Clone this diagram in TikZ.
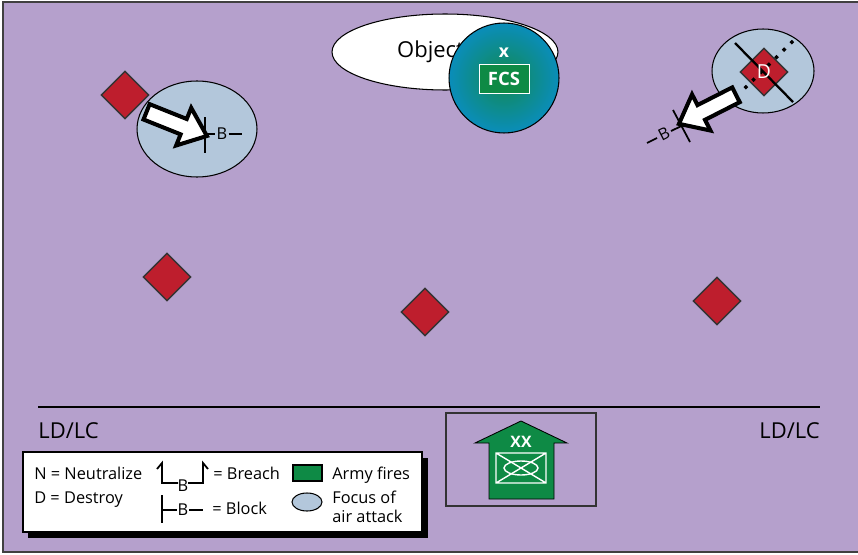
\documentclass[tikz,border=0pt]{standalone}
\usepackage{fontspec}
\setmainfont{Open Sans}
\usetikzlibrary{positioning,shapes.geometric,shapes.arrows,calc}

\definecolor{bgpurple}{HTML}{B5A0CC}
\definecolor{airblue}{HTML}{B3C7DB}
\definecolor{tgtred}{HTML}{BE1E2D}
\definecolor{armygreen}{HTML}{0E8A45}
\definecolor{fcsblue}{HTML}{0A8DBA}
\definecolor{fcsgreen}{HTML}{128A52}

\tikzset{
  target/.style={diamond,draw=black!80,line width=0.8pt,fill=tgtred,
    minimum width=0.96cm,minimum height=0.96cm,inner sep=0pt},
  airfocus/.style={ellipse,draw=black,line width=0.6pt,fill=airblue,inner sep=0pt},
  push/.style={single arrow,draw=black,line width=2.3pt,fill=white,inner xsep=0pt,inner ysep=0.125cm,
    single arrow head extend=0.24cm,single arrow tip angle=78},
  symb/.style={line width=1pt},
  lbl/.style={inner sep=0pt,font=\fontsize{9.3}{11}\selectfont},
  lgd/.style={lbl,anchor=base west},
}

\begin{document}
\begin{tikzpicture}[x=0.02cm,y=-0.02cm]
	\useasboundingbox (0,0) rectangle (858,554);
	\fill[bgpurple] (3,2) rectangle (858,552);
	\draw[black!75,line width=1.1pt] (858,2) -- (3,2) -- (3,552) -- (858,552);

	% objective and the fire control cell over it
	\node[ellipse,draw=black,line width=0.6pt,fill=white,minimum width=4.52cm,minimum height=1.52cm,
		font=\fontsize{12.5}{14}\selectfont] (obj) at (445,52) {Objective};
	\node[circle,draw=black,line width=0.6pt,minimum size=2.2cm,inner color=fcsgreen,outer color=fcsblue] (fcs) at (504,78) {};
	\node[text=white,font=\bfseries\fontsize{10}{12}\selectfont] at (504,53) {x};
	\node[draw=white,fill=armygreen,text=white,minimum width=1cm,minimum height=0.58cm,inner sep=0pt,
		font=\bfseries\fontsize{10.5}{12}\selectfont] (fcsbox) at (504,79) {FCS};

	% air attack foci
	\node[airfocus,minimum width=2.4cm,minimum height=1.92cm] (foc1) at (197,129) {};
	\node[airfocus,minimum width=2.04cm,minimum height=1.68cm] (foc2) at (763,71) {};

	% targets
	\node[target] (t1) at (125,95) {};
	\node[target] (t2) at (167,277) {};
	\node[target] (t3) at (425,312) {};
	\node[target] (t4) at (717,301) {};
	\node[target] (t5) at (764,72) {};
	\draw[line width=1.3pt] (735,43) -- (793,102);
	\draw[line width=1.9pt,dash pattern=on 1.9pt off 4.2pt] (793,41) -- (743,90);
	\node[lbl,text=white,font=\fontsize{11}{13}\selectfont] at (764,72) {D};

	% block on the left
	\node[push,rotate=-21.8,minimum height=1.3cm] (a1) at (172,122) {};
	\draw[symb] (205,117) -- (205,153);
	\node[lbl] (b1) at (222,134) {B};
	\draw[symb] (205,134) -- ($(b1.west)+(-1,0)$);
	\draw[symb] ($(b1.east)+(1,0)$) -- (242,134);

	% block on the right
	\node[push,rotate=207,minimum height=1.28cm] (a2) at (712,107) {};
	\draw[symb] (673,110) -- (690,142);
	\node[lbl,rotate=27] (b2) at (664,134) {B};
	\draw[symb] (681.5,126) -- (671,131);
	\draw[symb] (657,138) -- (647,143);

	% line of departure
	\draw[line width=1.7pt] (38,407) -- (820,407);
	\node[lbl,font=\fontsize{12.5}{14}\selectfont,anchor=west] (ldl) at (38,431) {LD/LC};
	\node[lbl,font=\fontsize{12.5}{14}\selectfont,anchor=east] (ldr) at (820,431) {LD/LC};

	% division moving up
	\draw[black!80,line width=0.6pt] (446,413) rectangle (596,506);
	\draw[fill=armygreen,line width=0.5pt] (521,421) -- (567,443) -- (554,443) -- (554,499)
		-- (489,499) -- (489,443) -- (475,443) -- cycle;
	\node[lbl,text=white,font=\bfseries\fontsize{9}{11}\selectfont] at (521,442) {XX};
	\draw[white,line width=0.8pt] (496,453) rectangle (546,483) (496,453) -- (546,483) (496,483) -- (546,453);
	\draw[white,line width=0.8pt] (521,468) ellipse [x radius=17,y radius=7];

	% legend
	\fill[black] (28,458) rectangle (428,538);
	\draw[fill=white,line width=0.6pt] (23,452) rectangle (422,532);
	\node[lgd] at (34,479) {N = Neutralize};
	\node[lgd] at (34,503) {D = Destroy};
	\draw[symb] (157,469) -- (162,463) -- (162,483) -- (178,483);
	\node[lbl] at (183,486) {B};
	\draw[symb] (188,483) -- (203,483) -- (203,463) -- (208,469);
	\node[lgd] at (213,479) {= Breach};
	\draw[symb] (162,495) -- (162,523) (162,510) -- (177,510);
	\node[lbl] at (183,510) {B};
	\draw[symb] (189,510) -- (203,510);
	\node[lgd] at (212,514) {= Block};
	\draw[fill=armygreen,line width=0.6pt] (293,465) rectangle (322,481);
	\node[lgd] at (332,479) {Army fires};
	\draw[fill=airblue,line width=0.6pt] (307,502) ellipse [x radius=15,y radius=9];
	\node[lgd] at (332,503) {Focus of};
	\node[lgd] at (332,522) {air attack};
\end{tikzpicture}
\end{document}
